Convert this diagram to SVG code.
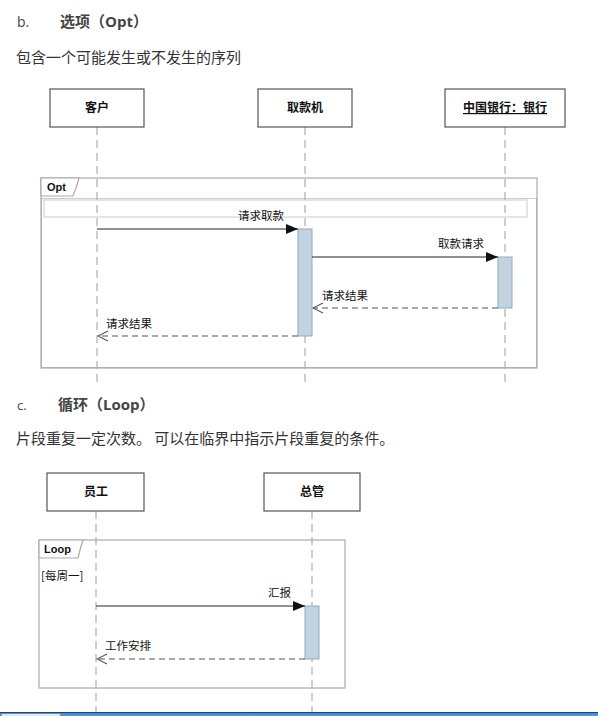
<svg xmlns="http://www.w3.org/2000/svg" width="598" height="716" viewBox="0 0 598 716">
<defs>
<style>
.h{font-family:"Open Sans","Noto Sans CJK SC",sans-serif;fill:#444;}
.t{font-family:"Noto Sans CJK SC",sans-serif;font-size:15px;fill:#333;}
.box{fill:#fff;stroke:#555;stroke-width:1.2;}
.bl{font-family:"Noto Sans CJK SC",sans-serif;font-size:12px;font-weight:bold;fill:#111;text-anchor:middle;}
.life{stroke:#b4b4b4;stroke-width:1.3;stroke-dasharray:8 5;fill:none;}
.frame{fill:none;stroke:#aaa;stroke-width:1.2;}
.tab{fill:#fff;stroke:#aaa;stroke-width:1.2;}
.tl{font-family:"Liberation Sans",sans-serif;font-size:11px;font-weight:bold;fill:#111;}
.act{fill:#c3d2df;stroke:#8eacc6;stroke-width:1;}
.msg{stroke:#222;stroke-width:1.1;fill:none;}
.ret{stroke:#555;stroke-width:1.2;stroke-dasharray:6 4;fill:none;}
.ml{font-family:"Noto Sans CJK SC",sans-serif;font-size:11.5px;fill:#111;}
</style>
<marker id="fa" markerWidth="12" markerHeight="10" refX="12" refY="5" orient="auto" markerUnits="userSpaceOnUse"><path d="M0,0 L12,5 L0,10 Z" fill="#111"/></marker>
<marker id="oa" markerWidth="12" markerHeight="12" refX="11" refY="6" orient="auto" markerUnits="userSpaceOnUse"><path d="M1,1 L11,6 L1,11" fill="none" stroke="#555" stroke-width="1.1"/></marker>
<linearGradient id="tb" x1="0" y1="0" x2="0" y2="1"><stop offset="0" stop-color="#3a7fc0"/><stop offset="1" stop-color="#5d9ad6"/></linearGradient>
</defs>
<rect width="598" height="716" fill="#fff"/>

<g id="header-b">
<text class="h" x="17" y="27" font-size="14">b.</text>
<text class="h" x="60" y="27" font-size="15" font-weight="bold">选项（Opt）</text>
<text class="t" x="16" y="63">包含一个可能发生或不发生的序列</text>
</g>

<g id="lifelines-top">
<line class="life" x1="97" y1="127" x2="97" y2="382"/>
<line class="life" x1="305" y1="127" x2="305" y2="382"/>
<line class="life" x1="505" y1="127" x2="505" y2="382"/>
</g>

<g id="opt-frame">
<rect class="frame" x="41" y="178" width="496" height="190"/>
<path class="tab" d="M41,178 H79 L76,188 L73,196 H41 Z"/>
<text class="tl" x="47" y="191">Opt</text>
<rect x="41.5" y="198.5" width="495" height="169" fill="none" stroke="#999" stroke-width="1" stroke-dasharray="1 1"/>
<rect x="44" y="200" width="483" height="17" fill="none" stroke="#ccc" stroke-width="1"/>
</g>

<g id="node-kehu"><rect class="box" x="50" y="89" width="94" height="38"/><text class="bl" x="97" y="112">客户</text></g>
<g id="node-qukuanji"><rect class="box" x="258" y="89" width="94" height="38"/><text class="bl" x="305" y="112">取款机</text></g>
<g id="node-bank"><rect class="box" x="445" y="89" width="120" height="38"/><text class="bl" x="505" y="112" text-decoration="underline">中国银行：银行</text></g>

<g id="activations-top">
<rect class="act" x="298" y="229" width="14" height="107"/>
<rect class="act" x="498" y="257" width="14" height="51"/>
</g>

<g id="connectors-top">
<line class="msg" x1="97" y1="229" x2="298" y2="229" marker-end="url(#fa)"/>
<text class="ml" x="238" y="220">请求取款</text>
<line class="msg" x1="312" y1="257" x2="498" y2="257" marker-end="url(#fa)"/>
<text class="ml" x="438" y="248">取款请求</text>
<line class="ret" x1="498" y1="308" x2="313" y2="308" marker-end="url(#oa)"/>
<text class="ml" x="322" y="300">请求结果</text>
<line class="ret" x1="298" y1="336" x2="98" y2="336" marker-end="url(#oa)"/>
<text class="ml" x="106" y="328">请求结果</text>
</g>

<g id="header-c">
<text class="h" x="17" y="410" font-size="13">c.</text>
<text class="h" x="58" y="410" font-size="15" font-weight="bold">循环（Loop）</text>
<text class="t" x="16" y="444">片段重复一定次数。 可以在临界中指示片段重复的条件。</text>
</g>

<g id="lifelines-bottom">
<line class="life" x1="96" y1="511" x2="96" y2="712"/>
<line class="life" x1="312" y1="511" x2="312" y2="712"/>
</g>

<g id="loop-frame">
<rect class="frame" x="39" y="540" width="306" height="148"/>
<path class="tab" d="M39,540 H83 L80,550 L78,558 H39 Z"/>
<text class="tl" x="44" y="553">Loop</text>
<text class="ml" x="41" y="580">[每周一]</text>
</g>

<g id="node-yuangong"><rect class="box" x="47" y="473" width="97" height="38"/><text class="bl" x="96" y="496">员工</text></g>
<g id="node-zongguan"><rect class="box" x="264" y="473" width="96" height="38"/><text class="bl" x="312" y="496">总管</text></g>

<g id="activations-bottom">
<rect class="act" x="305" y="606" width="14" height="53"/>
</g>

<g id="connectors-bottom">
<line class="msg" x1="96" y1="606" x2="305" y2="606" marker-end="url(#fa)"/>
<text class="ml" x="268" y="597">汇报</text>
<line class="ret" x1="305" y1="659" x2="97" y2="659" marker-end="url(#oa)"/>
<text class="ml" x="105" y="650">工作安排</text>
</g>

<g id="taskbar">
<rect x="0" y="712" width="598" height="4" fill="url(#tb)"/>
<line x1="0" y1="712.5" x2="598" y2="712.5" stroke="#1c4670" stroke-width="1"/>
<rect x="1.5" y="713.5" width="59" height="3" fill="#dce9f5" stroke="#6f8fb0" stroke-width="1"/>
</g>
</svg>
